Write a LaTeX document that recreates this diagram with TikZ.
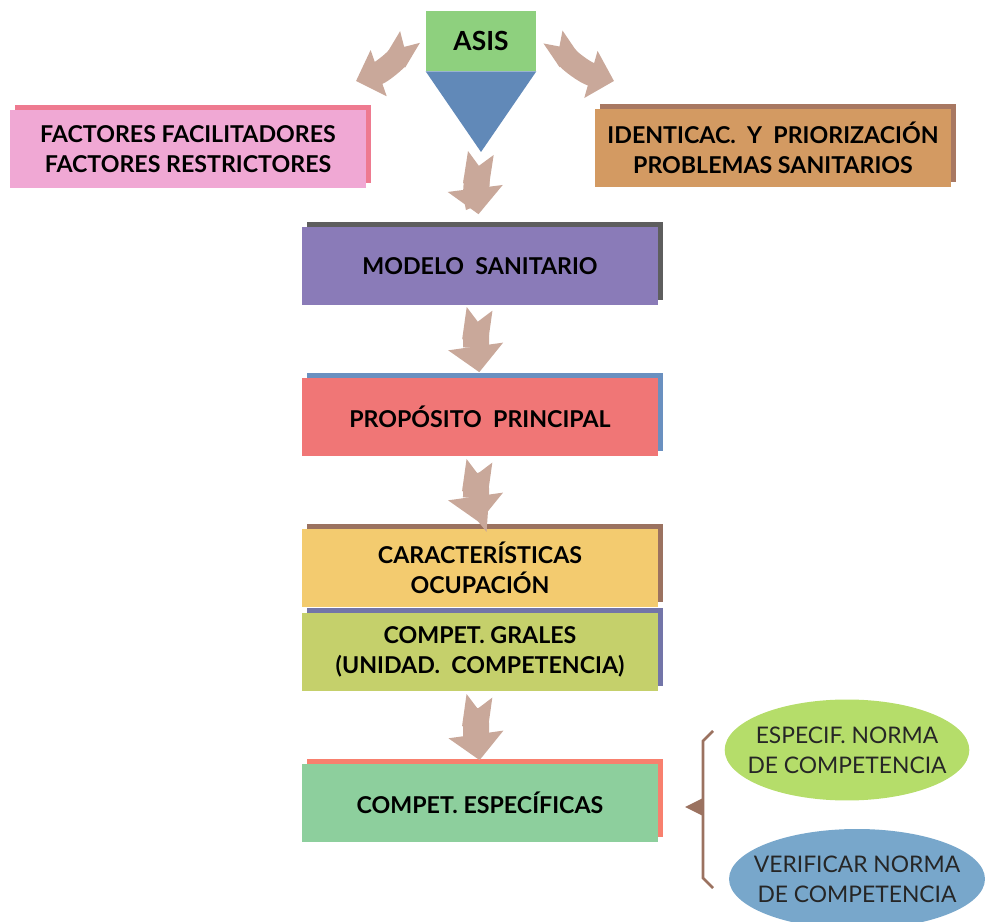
\documentclass[tikz,border=0pt]{standalone}
\usepackage{fontspec}
\setmainfont{Lato}
\usetikzlibrary{arrows.meta,shadows,shapes.geometric}

\definecolor{asisverde}{HTML}{8ED07E}
\definecolor{triazul}{HTML}{6189B8}
\definecolor{flechatan}{HTML}{C9A89A}
\definecolor{rosa}{HTML}{F0A8D4}
\definecolor{rosaoscuro}{HTML}{EE7A90}
\definecolor{naranja}{HTML}{D39A62}
\definecolor{marron}{HTML}{A87862}
\definecolor{morado}{HTML}{8A7BB8}
\definecolor{gris}{HTML}{5E5E5E}
\definecolor{rojo}{HTML}{F07676}
\definecolor{azul}{HTML}{6A90C0}
\definecolor{amarillo}{HTML}{F3CB6F}
\definecolor{cafe}{HTML}{9B7260}
\definecolor{lima}{HTML}{C5D06B}
\definecolor{lila}{HTML}{7375A8}
\definecolor{verde}{HTML}{8DCF9D}
\definecolor{salmon}{HTML}{F8806E}
\definecolor{elverde}{HTML}{B5DD6A}
\definecolor{elazul}{HTML}{78A7CB}

\begin{document}
\begin{tikzpicture}[x=0.02cm,y=0.02cm,
  caja/.style={minimum width=7.14cm, minimum height=1.58cm, inner sep=0pt,
    align=center, font=\bfseries\fontsize{13.2}{17}\selectfont},
  sombra/.style={copy shadow={shadow xshift=0.1cm, shadow yshift=0.1cm,
    fill=#1, draw=none}},
  elipse/.style={ellipse, inner xsep=-0.26cm, inner ysep=0pt, align=center,
    text=black!85, font=\fontsize{13}{17}\selectfont},
  flecha/.style={draw=flechatan, line width=0.52cm,
    {Triangle Cap[reversed]}-{Triangle[width=1.08cm,length=0.52cm]}},
  flechita/.style={draw=flechatan, line width=0.46cm,
    {Triangle Cap[reversed]}-{Triangle[width=0.95cm,length=0.48cm]}}]

\useasboundingbox (0,0) rectangle (985,921);
\clip (0,0) rectangle (985,921);

\node[caja, fill=asisverde, minimum width=2.2cm, minimum height=1.2cm,
  font=\bfseries\fontsize{15}{17}\selectfont] (asis) at (481,880) {ASIS};

\node[caja, fill=rosa, sombra=rosaoscuro] (factores) at (188,772)
  {FACTORES FACILITADORES\\FACTORES RESTRICTORES};
\node[caja, fill=naranja, sombra=marron] (problemas) at (773,773)
  {IDENTICAC.\ \ Y\ \ PRIORIZACIÓN\\PROBLEMAS SANITARIOS};

\node[caja, fill=morado, sombra=gris] (modelo) at (480,655)
  {MODELO\ \ SANITARIO};
\node[caja, fill=rojo, sombra=azul] (proposito) at (480,504)
  {PROPÓSITO\ \ PRINCIPAL};
\node[caja, fill=amarillo, sombra=cafe] (ocupacion) at (480,353)
  {CARACTERÍSTICAS\\OCUPACIÓN};
\node[caja, fill=lima, sombra=lila] (grales) at (480,269)
  {COMPET.\ GRALES\\(UNIDAD.\ \ COMPETENCIA)};
\node[caja, fill=verde, sombra=salmon] (especificas) at (480,118)
  {COMPET.\ ESPECÍFICAS};

\node[elipse, fill=elverde, minimum width=4.74cm, minimum height=2.02cm]
  (especif) at (847,171) {ESPECIF.\ NORMA\\DE\ COMPETENCIA};
\node[elipse, fill=elazul, minimum width=5.12cm, minimum height=2cm]
  (verificar) at (857,42) {VERIFICAR NORMA\\DE\ COMPETENCIA};

\coordinate (vertice) at (481,769);

\draw[flechita] (410,884) to[bend left=20] (356,840);
\draw[flechita] (553,884) to[bend right=20] (614,840);

\draw[flecha, shorten <=0.02cm, shorten >=0.24cm] (vertice) to[bend right=8] (modelo.north);
\draw[flecha, shorten <=0.06cm, shorten >=0.1cm] (modelo.south) to[bend right=8] (proposito.north);
\draw[flecha, shorten <=0.08cm, shorten >=0.12cm] (proposito.south) to[bend right=8] (ocupacion.north);
\draw[flecha, shorten <=0.08cm, shorten >=0.06cm] (grales.south) to[bend right=8] (especificas.north);

\fill[triazul] (asis.south west) -- (asis.south east) -- (vertice) -- cycle;

\draw[cafe, line width=1.5pt] (713,190) -- (703,180) -- (703,43) -- (713,33);
\fill[cafe] (703,123) -- (685,114) -- (703,105) -- cycle;

\end{tikzpicture}
\end{document}
